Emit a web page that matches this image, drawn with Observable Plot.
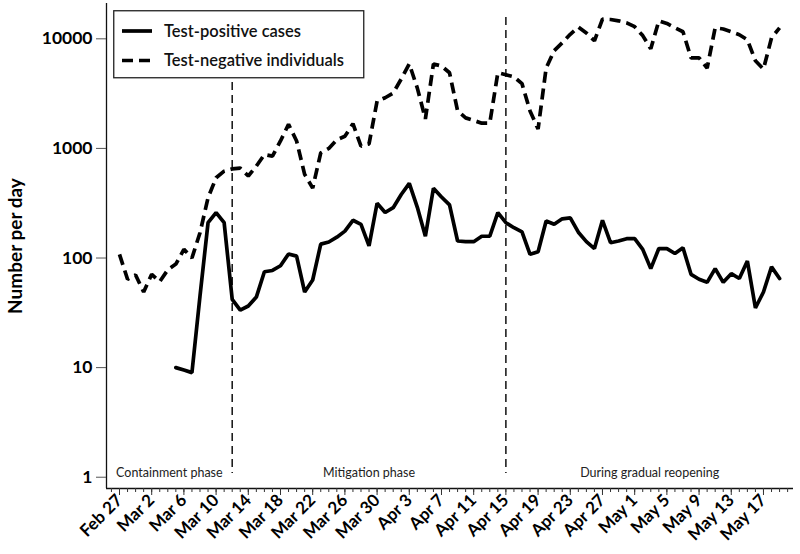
<!DOCTYPE html>
<html>
<head>
<meta charset="utf-8">
<script src="https://cdn.jsdelivr.net/npm/d3@7"></script>
<script src="https://cdn.jsdelivr.net/npm/@observablehq/plot@0.6"></script>
<style>
  body { margin: 0; background: #fff; }
  #wrap { position: relative; width: 800px; height: 554px; }
  #legend { position: absolute; left: 113px; top: 10px; }
</style>
</head>
<body>
<div id="wrap"></div>
<script>
// ---- data ----
const startDate = "2020-02-27"; // first day of the series, one value per day
const positiveCases = [
  null, null, null, null, null, null, null, 10, 9.5, 9,
  45, 210, 260, 210, 42, 33.5, 36.5, 44, 75, 77,
  85, 109, 104, 49, 63, 134, 140, 155, 176, 221,
  203, 129, 316, 260, 288, 380, 480, 290, 158, 433,
  360, 305, 143, 141, 141, 158, 158, 260, 210, 189,
  173, 108, 114, 218, 203, 228, 232, 172, 141, 122,
  221, 138, 143, 150, 150, 120, 80, 122, 122, 110,
  124, 71, 64, 60, 80, 60, 72, 65, 94, 35,
  49, 83, 65
];
const negativeIndividuals = [
  108, 64, 70, 49, 71, 61, 78, 88, 120, 100,
  170, 354, 540, 620, 650, 660, 560, 690, 880, 850,
  1170, 1660, 1170, 580, 435, 910, 1000, 1200, 1290, 1680,
  1050, 1100, 2700, 2900, 3200, 4300, 5900, 3550, 1860, 5900,
  5650, 4900, 2200, 1900, 1800, 1700, 1700, 4900, 4700, 4500,
  3900, 2200, 1500, 5400, 7800, 9200, 11000, 12800, 11300, 9600,
  15100, 15000, 14600, 14000, 12900, 10700, 8100, 14600, 13800, 12600,
  11600, 6700, 6700, 5400, 12600, 12300, 11600, 10900, 9800, 6300,
  5300, 10200, 12600
];
const seriesNames = ["Test-positive cases", "Test-negative individuals"];
const tickDates = ["2020-02-27","2020-03-02","2020-03-06","2020-03-10","2020-03-14","2020-03-18","2020-03-22",
  "2020-03-26","2020-03-30","2020-04-03","2020-04-07","2020-04-11","2020-04-15","2020-04-19","2020-04-23",
  "2020-04-27","2020-05-01","2020-05-05","2020-05-09","2020-05-13","2020-05-17"];
const tickLabels = ["Feb 27","Mar 2","Mar 6","Mar 10","Mar 14","Mar 18","Mar 22","Mar 26","Mar 30","Apr 3",
  "Apr 7","Apr 11","Apr 15","Apr 19","Apr 23","Apr 27","May 1","May 5","May 9","May 13","May 17"];
const yTicks = [1, 10, 100, 1000, 10000];
const phaseBreaks = ["2020-03-12", "2020-04-15"];
const phaseNames = ["Containment phase", "Mitigation phase", "During gradual reopening"];
const yTitle = "Number per day";

// ---- build tables ----
const t0 = new Date(startDate + "T00:00:00Z");
const day = 864e5;
const rows = [];
positiveCases.forEach((v, i) => rows.push({date: new Date(+t0 + i * day), value: v, series: seriesNames[0]}));
negativeIndividuals.forEach((v, i) => rows.push({date: new Date(+t0 + i * day), value: v, series: seriesNames[1]}));
const posRows = rows.filter(d => d.series === seriesNames[0]);
const negRows = rows.filter(d => d.series === seriesNames[1]);

const xDomain = [new Date(+t0 - 1.615 * day), new Date(+t0 + 83.73 * day)];
const yDomain = [0.789, 21000];
const labelByTime = new Map(tickDates.map((d, i) => [+new Date(d + "T00:00:00Z"), tickLabels[i]]));
const majorTicks = tickDates.map(d => new Date(d + "T00:00:00Z"));
const minorTicks = d3.utcDay.range(new Date(+t0 - day), new Date(+t0 + 84 * day));
const breakDates = phaseBreaks.map(d => new Date(d + "T00:00:00Z"));
const bounds = [xDomain[0], ...breakDates, xDomain[1]];
const phases = phaseNames.map((name, i) => ({name, date: new Date((+bounds[i] + +bounds[i + 1]) / 2)}));

const chart = Plot.plot({
  width: 800,
  height: 554,
  marginLeft: 106,
  marginRight: 7,
  marginTop: 3,
  marginBottom: 66,
  style: {fontFamily: "Lato, 'Open Sans', sans-serif", fontSize: "15px", color: "#000", background: "#fff"},
  x: {type: "utc", domain: xDomain},
  y: {type: "log", domain: yDomain},
  marks: [
    Plot.ruleX([xDomain[0]], {stroke: "#111", strokeWidth: 1.3}),
    Plot.ruleY([yDomain[0]], {stroke: "#111", strokeWidth: 1.3}),
    Plot.axisY({ticks: yTicks, tickFormat: d => String(d), tickSize: 10, tickPadding: 4, fontWeight: "bold", fontSize: 17.5, stroke: "#555", label: null}),
    Plot.axisX({ticks: minorTicks, tickSize: 4, tickFormat: () => "", label: null, stroke: "#333"}),
    Plot.axisX({ticks: majorTicks, tickSize: 7, tickRotate: -45, tickPadding: 2, fontWeight: "bold", fontSize: 17,
      tickFormat: d => labelByTime.get(+d), label: null, stroke: "#333"}),
    Plot.ruleX(breakDates, {x: d => d, stroke: "#111", strokeWidth: 1.5, strokeDasharray: "8,5", insetTop: 14, insetBottom: 15}),
    Plot.text(phases, {x: "date", text: "name", frameAnchor: "bottom", dy: -12, fontSize: 12.5, fill: "#222"}),
    Plot.text([yTitle], {frameAnchor: "left", textAnchor: "middle", rotate: -90, dx: -91, fontWeight: "bold", fontSize: 19}),
    Plot.line(negRows, {x: "date", y: "value", stroke: "#000", strokeWidth: 3.7, strokeDasharray: "11,6", strokeLinecap: "butt", strokeLinejoin: "miter"}),
    Plot.line(posRows, {x: "date", y: "value", stroke: "#000", strokeWidth: 3.7, strokeLinejoin: "miter"})
  ]
});
const wrap = document.getElementById("wrap");
wrap.appendChild(chart);

// legend (inside the plot area, top-left)
const lg = d3.create("svg").attr("id", "legend").attr("width", 252).attr("height", 69)
  .style("font-family", "Lato, 'Open Sans', sans-serif");
lg.append("rect").attr("x", 0.75).attr("y", 0.75).attr("width", 250).attr("height", 67)
  .attr("fill", "#fff").attr("stroke", "#222").attr("stroke-width", 1.3);
seriesNames.forEach((name, i) => {
  const cy = 21 + i * 29.5;
  lg.append("line").attr("x1", 9).attr("x2", 39).attr("y1", cy).attr("y2", cy)
    .attr("stroke", "#000").attr("stroke-width", 3.7)
    .attr("stroke-dasharray", i === 1 ? "11,6" : null);
  lg.append("text").attr("x", 51).attr("y", cy).attr("dy", "0.35em")
    .attr("font-size", 16.5).attr("font-weight", 600).attr("fill", "#111").text(name);
});
wrap.appendChild(lg.node());
</script>
</body>
</html>
